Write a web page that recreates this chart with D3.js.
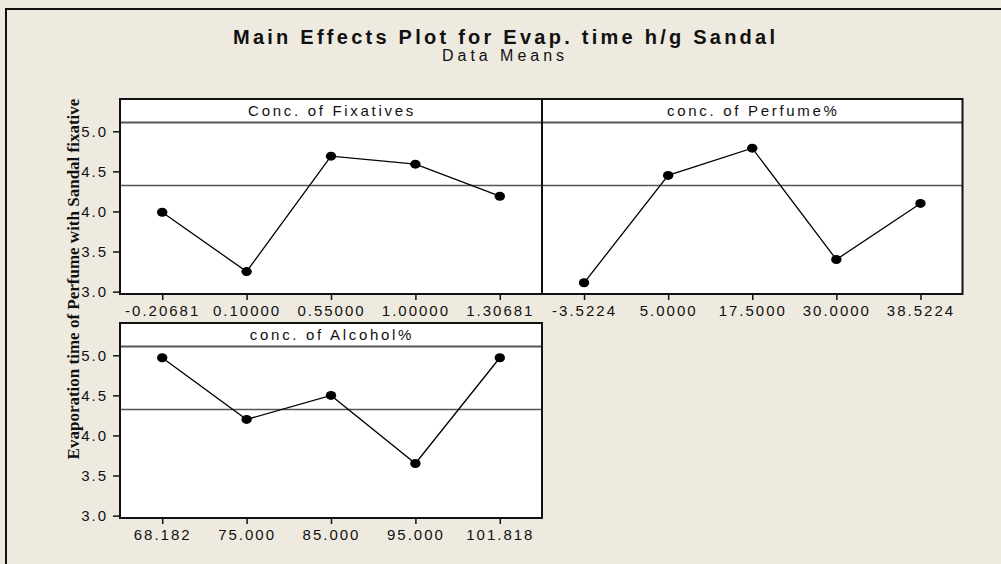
<!DOCTYPE html>
<html>
<head>
<meta charset="utf-8">
<script src="https://cdn.jsdelivr.net/npm/d3@7"></script>
<style>
	body { margin: 0; background: #eeeae0; overflow: hidden; }
	svg { display: block; }
	.tick text { font-family: "Liberation Sans", Arial, sans-serif; font-size: 15px; letter-spacing: 2px; fill: #111; }
	.tick line { stroke: #111; stroke-width: 1.5px; }
	.domain { display: none; }
</style>
</head>
<body>
<svg id="chart" width="1001" height="564"></svg>
<script>
// values
var factorNames = ["Conc. of Fixatives", "conc. of Perfume%", "conc. of Alcohol%"];
var fixativeLevels = ["-0.20681", "0.10000", "0.55000", "1.00000", "1.30681"];
var fixativeMeans = [3.99, 3.25, 4.69, 4.59, 4.19];
var perfumeLevels = ["-3.5224", "5.0000", "17.5000", "30.0000", "38.5224"];
var perfumeMeans = [3.11, 4.45, 4.79, 3.40, 4.10];
var alcoholLevels = ["68.182", "75.000", "85.000", "95.000", "101.818"];
var alcoholMeans = [4.97, 4.20, 4.50, 3.65, 4.97];
var grandMean = 4.325;
var yTicks = [3.0, 3.5, 4.0, 4.5, 5.0];

(function(){
	var svg = d3.select("#chart");

	var colX = [120, 542, 962.5],  // panel column edges
		rowY = [99, 323],          // panel tops
		headerH = 23.5,
		plotH = 171.5;

	// outer frame: only the left and top edges fall inside the image
	svg.append("path")
		.attr("d", "M6,564V9H1001")
		.attr("fill", "none")
		.attr("stroke", "#111")
		.attr("stroke-width", 2);

	svg.append("text")
		.attr("x", 504).attr("y", 44)
		.attr("text-anchor", "middle")
		.attr("textLength", 542)
		.attr("lengthAdjust", "spacing")
		.style("font-family", "Liberation Sans, Arial, sans-serif")
		.style("font-size", "20px")
		.style("font-weight", "bold")
		.attr("fill", "#111")
		.text("Main Effects Plot for Evap. time h/g Sandal");

	svg.append("text")
		.attr("x", 503).attr("y", 61)
		.attr("text-anchor", "middle")
		.attr("textLength", 122)
		.attr("lengthAdjust", "spacing")
		.style("font-family", "Liberation Sans, Arial, sans-serif")
		.style("font-size", "16px")
		.attr("fill", "#111")
		.text("Data Means");

	svg.append("text")
		.attr("transform", "translate(79,279) rotate(-90)")
		.attr("text-anchor", "middle")
		.style("font-family", "Liberation Serif, Times New Roman, serif")
		.style("font-size", "17px")
		.style("font-weight", "bold")
		.attr("fill", "#111")
		.text("Evaporation time of Perfume with Sandal fixative");

	var panels = [
		{name: factorNames[0], levels: fixativeLevels, means: fixativeMeans, col: 0, row: 0},
		{name: factorNames[1], levels: perfumeLevels, means: perfumeMeans, col: 1, row: 0},
		{name: factorNames[2], levels: alcoholLevels, means: alcoholMeans, col: 0, row: 1}
	];

	panels.forEach(function(p){
		var x0 = colX[p.col], x1 = colX[p.col+1],
			top = rowY[p.row],
			plotTop = top + headerH,
			plotBottom = plotTop + plotH;

		var x = d3.scalePoint()
			.domain(p.levels)
			.range([x0, x1])
			.padding(0.5);

		var y = d3.scaleLinear()
			.domain([2.97, 5.11])
			.range([plotBottom, plotTop]);

		var g = svg.append("g");

		g.append("rect")
			.attr("x", x0).attr("y", top)
			.attr("width", x1-x0).attr("height", plotBottom-top)
			.attr("fill", "#fff");

		// header strip
		g.append("line")
			.attr("x1", x0).attr("x2", x1)
			.attr("y1", plotTop).attr("y2", plotTop)
			.attr("stroke", "#555").attr("stroke-width", 2);

		g.append("text")
			.attr("x", (x0+x1)/2 + 1).attr("y", top+17)
			.attr("text-anchor", "middle")
			.style("font-family", "Liberation Sans, Arial, sans-serif")
			.style("font-size", "15px")
			.style("letter-spacing", "2.7px")
			.attr("fill", "#111")
			.text(p.name);

		// grand mean reference line
		g.append("line")
			.attr("x1", x0).attr("x2", x1)
			.attr("y1", y(grandMean)).attr("y2", y(grandMean))
			.attr("stroke", "#555").attr("stroke-width", 1.5);

		var pts = p.levels.map(function(l, i){ return [l, p.means[i]]; });

		g.append("path")
			.datum(pts)
			.attr("fill", "none")
			.attr("stroke", "#000")
			.attr("stroke-width", 1.3)
			.attr("d", d3.line()
				.x(function(d){ return x(d[0]); })
				.y(function(d){ return y(d[1]); }));

		g.selectAll(".dot")
			.data(pts)
			.enter()
			.append("ellipse")
			.attr("class", "dot")
			.attr("cx", function(d){ return x(d[0]); })
			.attr("cy", function(d){ return y(d[1]); })
			.attr("rx", 5.2).attr("ry", 4.5)
			.attr("fill", "#000");

		g.append("rect")
			.attr("x", x0).attr("y", top)
			.attr("width", x1-x0).attr("height", plotBottom-top)
			.attr("fill", "none")
			.attr("stroke", "#111")
			.attr("stroke-width", 2);

		g.append("g")
			.attr("transform", "translate(0," + plotBottom + ")")
			.call(d3.axisBottom(x).tickSize(6).tickPadding(5));

		if (p.col === 0) {
			g.append("g")
				.attr("transform", "translate(" + x0 + ",0)")
				.call(d3.axisLeft(y).tickValues(yTicks).tickFormat(d3.format(".1f")).tickSize(7).tickPadding(5));
		}
	});
})();
</script>
</body>
</html>
